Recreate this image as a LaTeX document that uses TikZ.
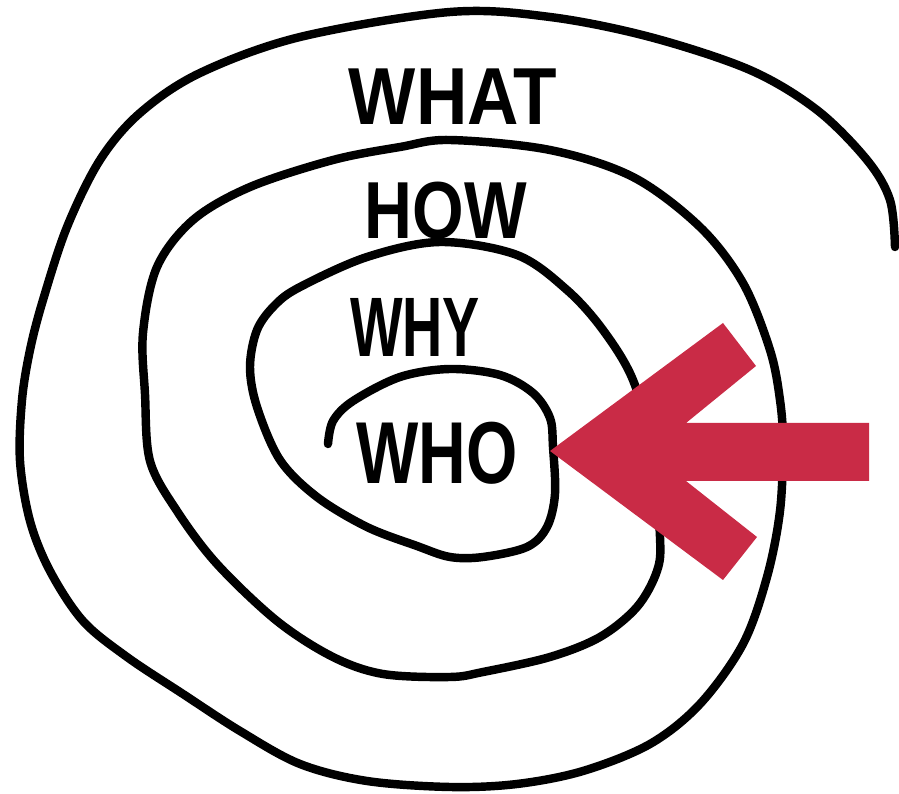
\documentclass[tikz,border=0pt]{standalone}
\usepackage{fontspec}
\setmainfont{Liberation Sans}
\definecolor{arrowred}{RGB}{201,43,70}
\tikzset{
  ink/.style={line width=2.4pt, line cap=round, line join=round, black},
  label/.style={font=\bfseries\fontsize{23}{23}\selectfont, inner sep=0pt, anchor=center},
}
\begin{document}
\begin{tikzpicture}[x=0.01cm,y=-0.01cm]
\useasboundingbox (0,0) rectangle (899,794);
\fill[white] (0,0) rectangle (899,794);
% spiral
\draw[ink] plot[smooth, tension=0.55] coordinates {
(328,444) (333,421) (353,401) (400,377) (450,369) (500,375) (533,393) (550,418)
(553,447) (555,494) (547,527) (527,547) (483,557) (450,557) (417,546) (367,527)
(317,497) (280,460) (257,407) (250,367) (257,330) (275,305) (300,287) (367,257)
(440,242) (517,255) (567,290) (603,330) (633,380) (652,450) (660,537) (657,571)
(637,607) (600,637) (550,657) (483,672) (450,677) (383,674) (333,657) (277,621)
(217,564) (177,511) (150,461) (145,394) (143,333) (157,267) (193,220) (250,187)
(333,160) (400,147) (450,140) (550,150) (633,177) (700,227) (743,283) (770,350)
(780,400) (783,444) (780,511) (767,577) (743,644) (700,704) (650,744) (583,771)
(517,784) (450,787) (367,781) (300,764) (240,731) (183,694) (127,657) (83,621)
(50,571) (30,521) (20,461) (22,400) (30,350) (43,300) (67,227) (100,160)
(140,113) (200,73) (300,37) (450,12) (550,17) (650,37) (750,70) (817,110)
(867,160) (890,200) (895,247)};
% labels
\node[label, xscale=0.88] (what) at (453,97) {WHAT};
\node[label, xscale=0.82] (how) at (446,211) {HOW};
\node[label, xscale=0.66, font=\bfseries\fontsize{24}{24}\selectfont] (why) at (415,327) {WHY};
\node[label, xscale=0.75, font=\bfseries\fontsize{25}{25}\selectfont] (who) at (437,453) {WHO};
\coordinate (howstem) at (433,243);
\draw[ink, line width=1.6pt] (how.south -| howstem) -- (howstem);
% arrow
\fill[arrowred] (550,451) -- (723,323) -- (756,366) -- (686,423) -- (869,423)
  -- (869,481) -- (686,481) -- (757,537) -- (723,580) -- cycle;
\end{tikzpicture}
\end{document}
